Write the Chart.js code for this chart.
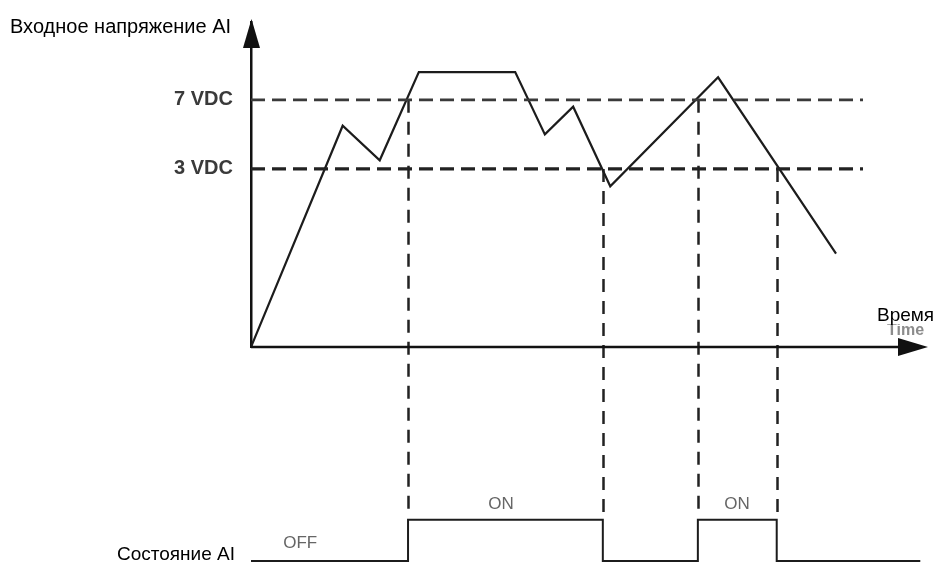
<!DOCTYPE html>
<html>
<head>
<meta charset="utf-8">
<script src="https://cdn.jsdelivr.net/npm/chart.js@4/dist/chart.umd.min.js"></script>
<style>
  html, body { margin: 0; padding: 0; background: #fff; }
  canvas { display: block; }
</style>
</head>
<body>
<canvas id="chart" width="935" height="563"></canvas>
<script>
// input voltage curve (time in arbitrary units, value in VDC)
const inputTimes = [0, 13.6, 19.1, 24.9, 39.2, 43.6, 47.8, 53.3, 69.3, 86.8]
const inputVolts = [-7.3, 5.5, 3.5, 8.6, 8.6, 5.0, 6.6, 2.0, 8.3, -1.9]

// switching thresholds: upper turns ON, lower turns OFF
const thresholdVolts = [7, 3]
const thresholdEnd = 90.8

// AI state signal (0 = OFF, 1 = ON)
const stateTimes = [0, 23.3, 52.2, 66.3, 78.0, 99.3]
const stateValues = [0, 1, 0, 1, 0, 0]
const stateText = ['OFF', 'ON', 'ON']
const stateTextTimes = [7.3, 37.1, 72.1]

const INK = '#1c1c1c'
const FONT = '"Liberation Sans", Arial, sans-serif'

const toPoints = (xs, ys) => xs.map((x, i) => ({ x, y: ys[i] }))

const thresholdSets = thresholdVolts.map((v, i) => ({
  label: v + ' VDC',
  data: [{ x: 0, y: v }, { x: thresholdEnd, y: v }],
  yAxisID: 'y',
  borderColor: i === 0 ? '#3a3a3a' : '#222',
  borderWidth: i === 0 ? 2.8 : 3.2,
  borderDash: [14, 7],
  pointRadius: 0,
}))

// dashed guides from the threshold crossing down to the state step
const guides = {
  id: 'guides',
  beforeDatasetsDraw(chart) {
    const { ctx, scales } = chart
    const { x, y, y2 } = scales
    ctx.save()
    ctx.strokeStyle = '#222'
    ctx.lineWidth = 2.5
    ctx.setLineDash([13, 9])
    for (let i = 1; i < stateTimes.length - 1; i++) {
      const level = stateValues[i] ? thresholdVolts[0] : thresholdVolts[1]
      const px = Math.round(x.getPixelForValue(stateTimes[i])) + 0.5
      ctx.beginPath()
      ctx.moveTo(px, y.getPixelForValue(level))
      ctx.lineTo(px, y2.getPixelForValue(1) - 4)
      ctx.stroke()
    }
    ctx.restore()
  },
  afterDatasetsDraw(chart) {
    const { ctx, scales } = chart
    const { x, y, y2 } = scales
    const ox = x.getPixelForValue(0)
    const oy = y.getPixelForValue(y.min)
    const xEnd = x.getPixelForValue(x.max)
    const yTop = y.getPixelForValue(y.max)

    ctx.save()
    // time axis with arrow
    ctx.strokeStyle = '#111'
    ctx.fillStyle = '#111'
    ctx.lineWidth = 2.5
    ctx.beginPath()
    ctx.moveTo(ox, oy)
    ctx.lineTo(xEnd - 20, oy)
    ctx.stroke()
    ctx.beginPath()
    ctx.moveTo(xEnd + 3, oy)
    ctx.lineTo(xEnd - 27, oy - 9)
    ctx.lineTo(xEnd - 27, oy + 9)
    ctx.closePath()
    ctx.fill()
    // arrow on the voltage axis
    ctx.beginPath()
    ctx.moveTo(ox + 0.5, yTop - 3)
    ctx.lineTo(ox - 8, yTop + 26)
    ctx.lineTo(ox + 9, yTop + 26)
    ctx.closePath()
    ctx.fill()

    // faded original caption under the time label
    ctx.save()
    ctx.beginPath()
    ctx.rect(870, 324, 65, 20)
    ctx.clip()
    ctx.fillStyle = '#8c8c8c'
    ctx.font = 'bold 16px ' + FONT
    ctx.textBaseline = 'alphabetic'
    ctx.fillText('Time', 887, 335)
    ctx.restore()

    ctx.fillStyle = '#000'
    ctx.textBaseline = 'alphabetic'
    ctx.textAlign = 'left'
    ctx.font = '20px ' + FONT
    ctx.fillText('Входное напряжение AI', 10, 33)
    ctx.font = '19px ' + FONT
    ctx.fillText('Время', 877, 321)
    ctx.textAlign = 'right'
    ctx.fillText('Состояние AI', 235, 560)

    // state captions
    ctx.textAlign = 'center'
    ctx.textBaseline = 'middle'
    ctx.font = '17px ' + FONT
    ctx.fillStyle = '#666'
    stateText.forEach((t, i) => {
      const on = t === 'ON'
      const py = on ? y2.getPixelForValue(1) - 16 : y2.getPixelForValue(0) - 18
      ctx.fillText(t, x.getPixelForValue(stateTextTimes[i]), py)
    })
    ctx.restore()
  },
}

new Chart(document.getElementById('chart'), {
  type: 'line',
  data: {
    datasets: [
      ...thresholdSets,
      {
        label: 'Входное напряжение AI',
        data: toPoints(inputTimes, inputVolts),
        yAxisID: 'y',
        borderColor: INK,
        borderWidth: 2.2,
        pointRadius: 0,
        tension: 0,
      },
      {
        label: 'Состояние AI',
        data: toPoints(stateTimes, stateValues),
        yAxisID: 'y2',
        stepped: 'before',
        borderColor: INK,
        borderWidth: 2,
        pointRadius: 0,
        clip: false,
      },
    ],
  },
  options: {
    responsive: false,
    animation: false,
    devicePixelRatio: 1,
    layout: { padding: { left: 0, right: 10, top: 22, bottom: 2 } },
    plugins: { legend: { display: false }, tooltip: { enabled: false } },
    scales: {
      x: { type: 'linear', min: 0, max: 100, display: false },
      y: {
        type: 'linear',
        min: -7.3,
        max: 11.5,
        stack: 'ai',
        stackWeight: 325,
        weight: 2,
        grid: { display: false, drawTicks: false },
        border: { display: true, color: '#111', width: 2.5 },
        afterBuildTicks: (s) => { s.ticks = thresholdVolts.map((v) => ({ value: v })) },
        afterFit: (s) => {
          s.width = 251
          s.paddingTop = 0
          s.paddingBottom = 0
        },
        ticks: {
          padding: 18,
          color: '#3a3a3a',
          font: { family: FONT, size: 20, weight: 'bold' },
          callback: (v) => v + ' VDC',
        },
      },
      y2: {
        type: 'linear',
        min: 0,
        max: 5.2,
        stack: 'ai',
        stackWeight: 214,
        weight: 1,
        display: false,
      },
    },
  },
  plugins: [guides],
})
</script>
</body>
</html>
